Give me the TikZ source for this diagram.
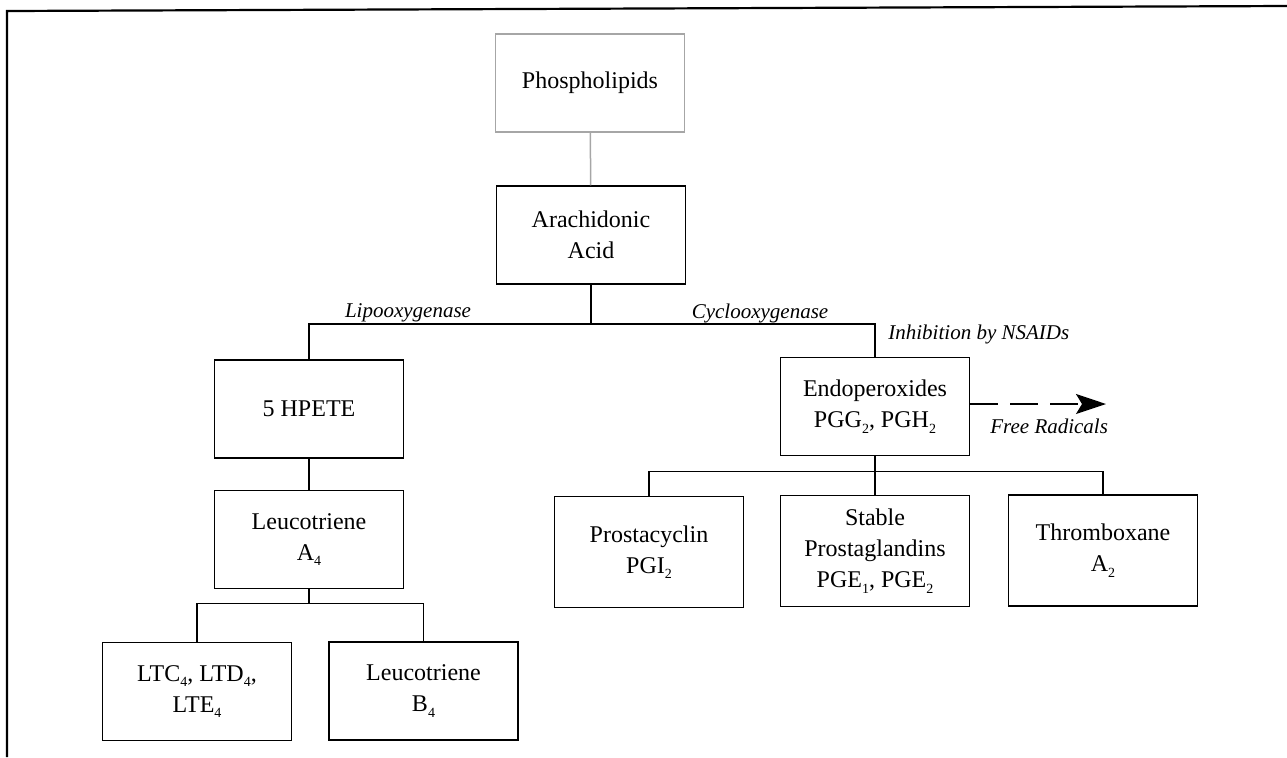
\documentclass[tikz,border=0pt]{standalone}
\usepackage{fontspec}
\setmainfont{Liberation Serif}
\usetikzlibrary{arrows.meta}
\newcommand\lsub[1]{\raisebox{-0.5ex}{\fontsize{7}{7}\selectfont #1}}
\begin{document}
\begin{tikzpicture}[x=0.5pt,y=-0.5pt,
  box/.style={draw=black, line width=0.75pt, minimum width=94.5pt, minimum height=49pt,
    inner sep=2pt, align=center, font=\fontsize{12}{15.5}\selectfont},
  tallbox/.style={box, minimum height=55.5pt},
  conn/.style={draw=black, line width=0.75pt},
  lab/.style={font=\fontsize{10.5}{12}\selectfont\itshape, inner sep=0pt},
  frame/.style={draw=black, line width=1.1pt}]
\useasboundingbox (0,0) rectangle (1287,757);
% frame
\coordinate (fbl) at (7,757);
\coordinate (ftl) at (7,11);
\coordinate (ftr) at (1287,6);
\draw[frame] (fbl) -- (ftl) -- (ftr);
% boxes
\node[box, draw=black!35] (phos) at (590,83) {Phospholipids};
\node[box] (arach) at (591,235) {Arachidonic\\Acid};
\node[box] (hpete) at (309,409) {5 HPETE};
\node[box] (endo) at (875,406.5) {Endoperoxides\\PGG\lsub{2}, PGH\lsub{2}};
\node[box] (ltA) at (309,539.5) {Leucotriene\\A\lsub{4}};
\node[box] (ltc) at (197,691.5) {LTC\lsub{4}, LTD\lsub{4},\\LTE\lsub{4}};
\node[box] (ltb) at (423.5,691) {Leucotriene\\B\lsub{4}};
\node[tallbox] (prosta) at (649,552) {Prostacyclin\\PGI\lsub{2}};
\node[tallbox] (stable) at (875,551) {Stable\\Prostaglandins\\PGE\lsub{1}, PGE\lsub{2}};
\node[tallbox] (thromb) at (1103,550.5) {Thromboxane\\A\lsub{2}};
% connectors
\draw[conn, draw=black!35] (phos) -- (arach);
\draw[conn] (arach.south) -- ++(0,39) coordinate (j1);
\draw[conn] (hpete.north) |- (j1) -| (endo.north);
\draw[conn] (hpete) -- (ltA);
\draw[conn] (ltA.south) -- ++(0,14) coordinate (j3);
\draw[conn] (ltc.north) |- (j3) -| (ltb.north);
\draw[conn] (endo.south) -- ++(0,15) coordinate (j2);
\draw[conn] (prosta.north) |- (j2) -| (thromb.north);
\draw[conn] (j2) -- (stable.north);
% free radicals arrow
\coordinate (fr) at (1106,404);
\draw[conn, dash pattern=on 14pt off 6pt, -{Stealth[length=15pt,width=10pt,inset=3pt]}]
  (endo.east |- fr) -- (fr);
% labels
\node[lab] (lipo) at (408,313) {Lipooxygenase};
\node[lab] (cyclo) at (760,313) {Cyclooxygenase};
\node[lab, anchor=west] (nsaid) at (888,334) {Inhibition by NSAIDs};
\node[lab, anchor=west] (frlab) at (990,426) {Free Radicals};
\end{tikzpicture}
\end{document}
